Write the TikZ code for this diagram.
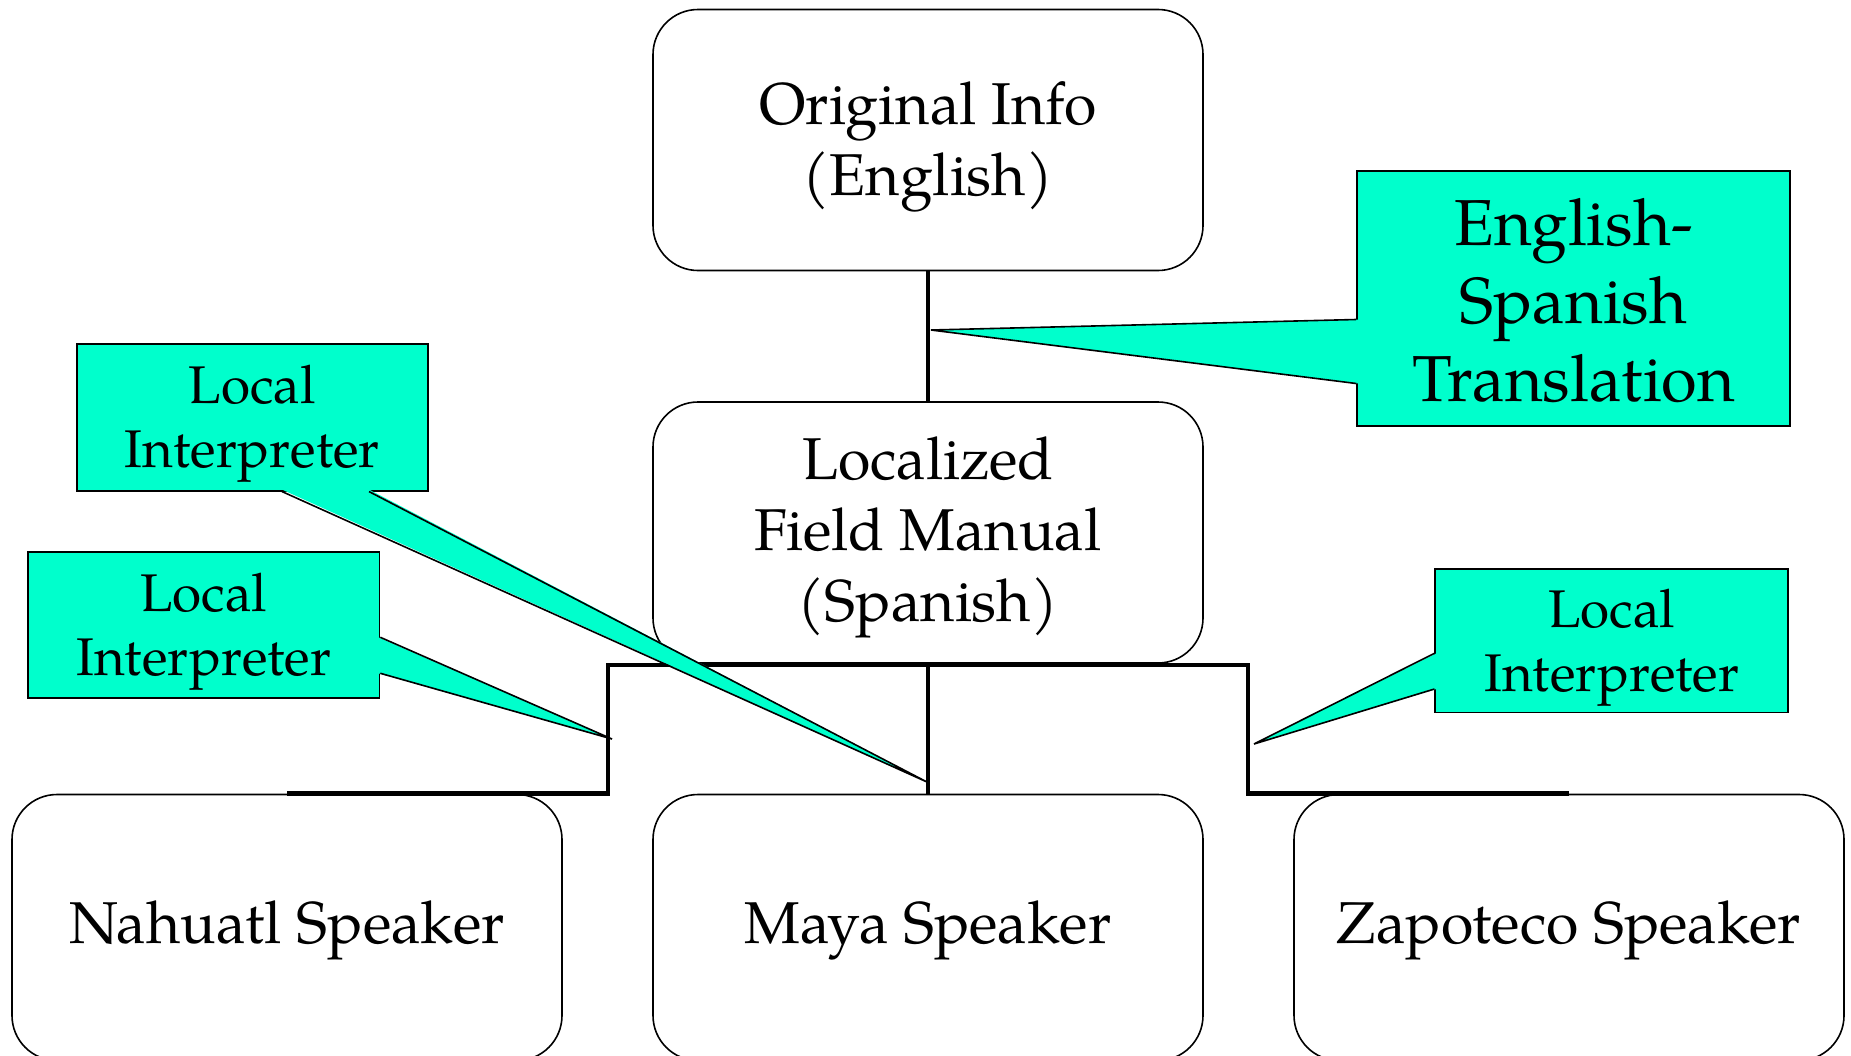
\documentclass[tikz,border=0pt]{standalone}
\usepackage{fontspec}
\setmainfont{TeX Gyre Pagella}
\usetikzlibrary{calc}
\definecolor{notecyan}{RGB}{0,255,204}
\tikzset{
  chartbox/.style={draw=black, line width=1.6pt, rounded corners=45pt,
    minimum width=550pt, minimum height=261pt, inner sep=0pt},
  charttext/.style={align=center, inner sep=0pt, font=\fontsize{59}{71}\selectfont},
  conn/.style={draw=black, line width=4.5pt, line join=miter, line cap=butt},
  notebox/.style={draw=black, line width=1.6pt, fill=notecyan, inner sep=0pt},
  notetext/.style={align=center, inner sep=0pt, font=\fontsize{53}{64}\selectfont},
  notefill/.style={fill=notecyan},
  noteedge/.style={draw=black, line width=1.6pt, line join=miter},
}
\begin{document}
\begin{tikzpicture}[x=1pt,y=-1pt]
\useasboundingbox (0,0) rectangle (1851,1055);
\clip (0,0) rectangle (1851,1055);

% chart boxes
\node[chartbox] (orig) at (928,140) {};
\node[chartbox] (loc) at (928,532.5) {};
\node[chartbox, minimum height=266pt] (nah) at (287,927.5) {};
\node[chartbox, minimum height=266pt] (maya) at (928,927.5) {};
\node[chartbox, minimum height=266pt] (zap) at (1569,927.5) {};

% chart box texts
\node[charttext] (origT) at ([yshift=-7pt]orig.center) {Original Info\\(English)};
\node[charttext] (locT) at ([yshift=-4.5pt]loc.center) {Localized\\Field Manual\\(Spanish)};
\node[charttext] (nahT) at ([yshift=-2.5pt]nah.center) {Nahuatl Speaker};
\node[charttext] (mayaT) at ([yshift=-2.5pt]maya.center) {Maya Speaker};
\node[charttext] (zapT) at ([yshift=-2.5pt]zap.center) {Zapoteco Speaker};

% connectors
\coordinate (busL) at (608,665);
\coordinate (busR) at (1248,665);
\draw[conn] (orig.south) -- (loc.north);
\draw[conn] (loc.south) -- (maya.north);
\draw[conn] (nah.north) -- (busL |- nah.north) -- (busL) -- (busR)
  -- (busR |- zap.north) -- (zap.north);

% callout: translation step
\node[notebox, minimum width=433pt, minimum height=255pt] (trn) at (1573.5,298.5) {};
\node[notetext, font=\fontsize{65}{78}\selectfont] (trnT) at ([yshift=-2.5pt]trn.center)
  {English-\\Spanish\\Translation};
\coordinate (trntip) at (931,330);
\coordinate (trnA) at (trn.west |- 0,319.5);
\coordinate (trnB) at (trn.west |- 0,383.5);
\fill[notefill] ($(trnA)+(2,0)$) -- (trntip) -- ($(trnB)+(2,0)$) -- cycle;
\draw[noteedge] (trnA) -- (trntip) -- (trnB);

% callout: interpreter for the Maya speaker
\node[notebox, minimum width=351pt, minimum height=146.7pt] (liM) at (252.3,417.4) {};
\node[notetext] (liMT) at ([yshift=-6pt]liM.center) {Local\\Interpreter};
\coordinate (liMtip) at (927,782);
\coordinate (liMA) at (liM.south -| 282,0);
\coordinate (liMB) at (liM.south -| 369,0);
\fill[notefill] ($(liMA)+(0,-2)$) -- (liMtip) -- ($(liMB)+(0,-2)$) -- cycle;
\draw[noteedge] (liMA) -- (liMtip) -- (liMB);

% callout: interpreter for the Nahuatl speaker
\node[notebox, minimum width=351.8pt, minimum height=146pt] (liN) at (203.6,625) {};
\node[notetext] (liNT) at ([yshift=-6.5pt]liN.center) {Local\\Interpreter};
\coordinate (liNtip) at (612,739);
\coordinate (liNA) at (liN.east |- 0,637.3);
\coordinate (liNB) at (liN.east |- 0,673.3);
\fill[notefill] ($(liNA)+(-2,0)$) -- (liNtip) -- ($(liNB)+(-2,0)$) -- cycle;
\draw[noteedge] (liNA) -- (liNtip) -- (liNB);

% callout: interpreter for the Zapoteco speaker
\node[notebox, minimum width=352.8pt, minimum height=143.3pt] (liZ) at (1611.6,640.7) {};
\node[notetext] (liZT) at ([yshift=-7pt]liZ.center) {Local\\Interpreter};
\coordinate (liZtip) at (1254,744);
\coordinate (liZA) at (liZ.west |- 0,653.3);
\coordinate (liZB) at (liZ.west |- 0,689);
\fill[notefill] ($(liZA)+(2,0)$) -- (liZtip) -- ($(liZB)+(2,0)$) -- cycle;
\draw[noteedge] (liZA) -- (liZtip) -- (liZB);
\end{tikzpicture}
\end{document}
